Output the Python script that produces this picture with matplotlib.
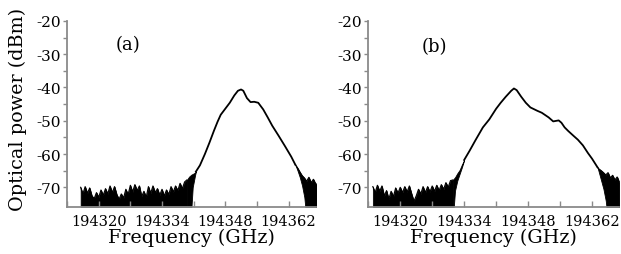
import numpy as np
import matplotlib
matplotlib.use("Agg")
import matplotlib.pyplot as plt

plt.rcParams['font.family'] = ['DejaVu Serif']
plt.rcParams['axes.unicode_minus'] = False

# ---- panel (a) ----
a_floor_f = np.arange(194316.0, 194340.0, 0.5)
a_floor_top = [-70.0, -72.0, -69.8, -71.8, -70.2, -72.6, -73.4, -71.6, -73.0, -70.8,
               -72.4, -70.4, -72.0, -69.6, -71.6, -69.8, -72.2, -73.6, -72.0, -73.2,
               -70.6, -72.2, -69.4, -71.4, -69.2, -71.0, -69.6, -72.8, -71.2, -73.0,
               -69.8, -71.8, -69.6, -71.6, -70.4, -72.4, -70.6, -72.6, -70.8, -72.2,
               -69.8, -71.4, -69.6, -71.0, -68.8, -70.4, -68.4, -67.8]
a_rise_f = [194339.5, 194340.0, 194340.5, 194340.8, 194341.3, 194341.5]
a_rise_top = [-67.8, -66.8, -66.2, -66.0, -65.6, -65.3]
a_rise_bot = [-80, -80, -76.5, -70.0, -66.5, -65.3]
a_curve_f = [194341.5, 194342.4, 194343.5, 194344.5, 194345.5, 194346.3, 194347.0,
             194348.0, 194349.0, 194350.0, 194350.8, 194351.5, 194352.0, 194352.8,
             194353.6, 194354.4, 194355.3, 194356.4, 194357.4, 194358.4, 194359.8,
             194361.2, 194362.6, 194363.5]
a_curve_v = [-65.3, -63.4, -60.0, -56.6, -53.0, -50.3, -48.2, -46.4, -44.6, -42.4,
             -41.0, -40.6, -41.0, -43.2, -44.4, -44.3, -44.6, -46.6, -49.0, -51.5,
             -54.5, -57.6, -60.8, -63.2]
a_tail_f = [194363.5, 194364.0, 194364.5, 194365.0, 194365.5, 194366.0, 194366.5,
            194367.0, 194367.5, 194368.0, 194368.5]
a_tail_top = [-63.2, -64.2, -65.4, -66.5, -67.2, -68.2, -67.0, -68.6, -67.6, -69.0, -68.4]
a_tail_bot = [-63.2, -65.0, -67.0, -69.5, -73.0, -80, -80, -80, -80, -80, -80]

# ---- panel (b) ----
b_floor_f = np.arange(194314.0, 194332.0, 0.5)
b_floor_top = [-69.8, -71.6, -69.4, -71.2, -69.6, -72.6, -71.0, -73.6, -71.2, -72.8,
               -70.2, -71.8, -70.0, -71.6, -69.8, -71.4, -69.6, -72.0, -74.2, -72.6,
               -70.6, -72.0, -69.8, -71.6, -69.8, -71.4, -69.6, -71.2, -69.4, -71.0,
               -69.2, -70.6, -68.6, -70.0, -68.0, -67.8]
b_rise_f = [194331.5, 194332.0, 194332.5, 194333.0, 194333.5, 194334.0]
b_rise_top = [-67.8, -67.0, -65.8, -64.8, -63.2, -61.8]
b_rise_bot = [-80, -71.0, -68.0, -66.0, -64.0, -61.8]
b_curve_f = [194334.0, 194335.2, 194336.5, 194338.1, 194339.5, 194341.0, 194342.0,
             194343.1, 194344.3, 194344.9, 194345.5, 194346.5, 194347.5, 194348.5,
             194350.0, 194351.0, 194352.5, 194353.5, 194354.7, 194355.3, 194356.0,
             194356.8, 194358.0, 194358.9, 194360.0, 194361.1, 194362.0, 194363.2]
b_curve_v = [-61.8, -59.0, -55.8, -52.0, -49.6, -46.4, -44.6, -42.8, -41.0, -40.3,
             -40.8, -42.8, -44.6, -46.0, -47.0, -47.6, -49.0, -50.2, -49.9, -50.6,
             -52.0, -53.1, -54.6, -55.7, -57.4, -59.7, -61.4, -64.0]
b_tail_f = [194363.2, 194363.5, 194364.0, 194364.5, 194365.0, 194365.5, 194366.0,
            194366.5, 194367.0, 194367.5, 194368.0]
b_tail_top = [-64.0, -64.5, -65.0, -65.6, -66.3, -65.6, -67.2, -66.4, -67.8, -66.9, -68.5]
b_tail_bot = [-64.0, -65.5, -68.0, -70.5, -74.0, -80, -80, -80, -80, -80, -80]

xticks = [194320, 194334, 194348, 194362]
yticks = [-20, -30, -40, -50, -60, -70]
gray = '#8a8a8a'

fig = plt.figure(figsize=(6.21, 2.55), dpi=100)
ax_a = fig.add_axes([0.108, 0.186, 0.401, 0.728])
ax_b = fig.add_axes([0.593, 0.186, 0.403, 0.728])

panels = [
    (ax_a, '(a)', (194316.0, 194368.1), (194326.4, -27.0),
     a_floor_f, a_floor_top, a_rise_f, a_rise_top, a_rise_bot,
     a_curve_f, a_curve_v, a_tail_f, a_tail_top, a_tail_bot),
    (ax_b, '(b)', (194314.0, 194367.8), (194327.4, -27.5),
     b_floor_f, b_floor_top, b_rise_f, b_rise_top, b_rise_bot,
     b_curve_f, b_curve_v, b_tail_f, b_tail_top, b_tail_bot),
]

for (ax, tag, xlim, tagpos, ff, ft, rf, rt, rb, cf, cv, tf, tt, tb) in panels:
    # noise floor: filled down to below the axis
    ax.fill_between(ff, ft, -80, color='black', lw=0.5)
    ax.plot(ff, ft, color='black', lw=0.8)
    ax.fill_between(rf, rb, rt, color='black', lw=0.6)
    ax.plot(cf, cv, color='black', lw=1.3)
    ax.fill_between(tf, tb, tt, color='black', lw=0.6)
    ax.plot(tf, tt, color='black', lw=0.8)

    ax.set_xlim(*xlim)
    ax.set_ylim(-75.8, -20)
    ax.set_xticks(xticks)
    ax.set_xticklabels([str(t) for t in xticks])
    ax.set_xticks([t + 7 for t in xticks[:-1]] + [xticks[0] - 7], minor=True)
    ax.set_yticks(yticks)
    ax.set_yticklabels([str(t) for t in yticks])
    ax.set_yticks([t - 5 for t in yticks[:-1]], minor=True)
    ax.tick_params(axis='x', which='both', direction='in', length=4, width=1,
                   color=gray, labelsize=10.5, pad=5)
    ax.tick_params(axis='y', which='both', direction='out', length=3, width=1,
                   color=gray, labelsize=11, pad=1.5)
    for side in ['top', 'right']:
        ax.spines[side].set_visible(False)
    for side in ['left', 'bottom']:
        ax.spines[side].set_color(gray)
        ax.spines[side].set_linewidth(1.3)
    ax.set_xlabel('Frequency (GHz)', fontsize=13.8, labelpad=0)
    ax.text(tagpos[0], tagpos[1], tag, ha='center', va='center', fontsize=13)

fig.text(0.029, 0.569, 'Optical power (dBm)', rotation=90, ha='center', va='center',
         fontsize=13.8)

fig.savefig('out.png', dpi=100)
